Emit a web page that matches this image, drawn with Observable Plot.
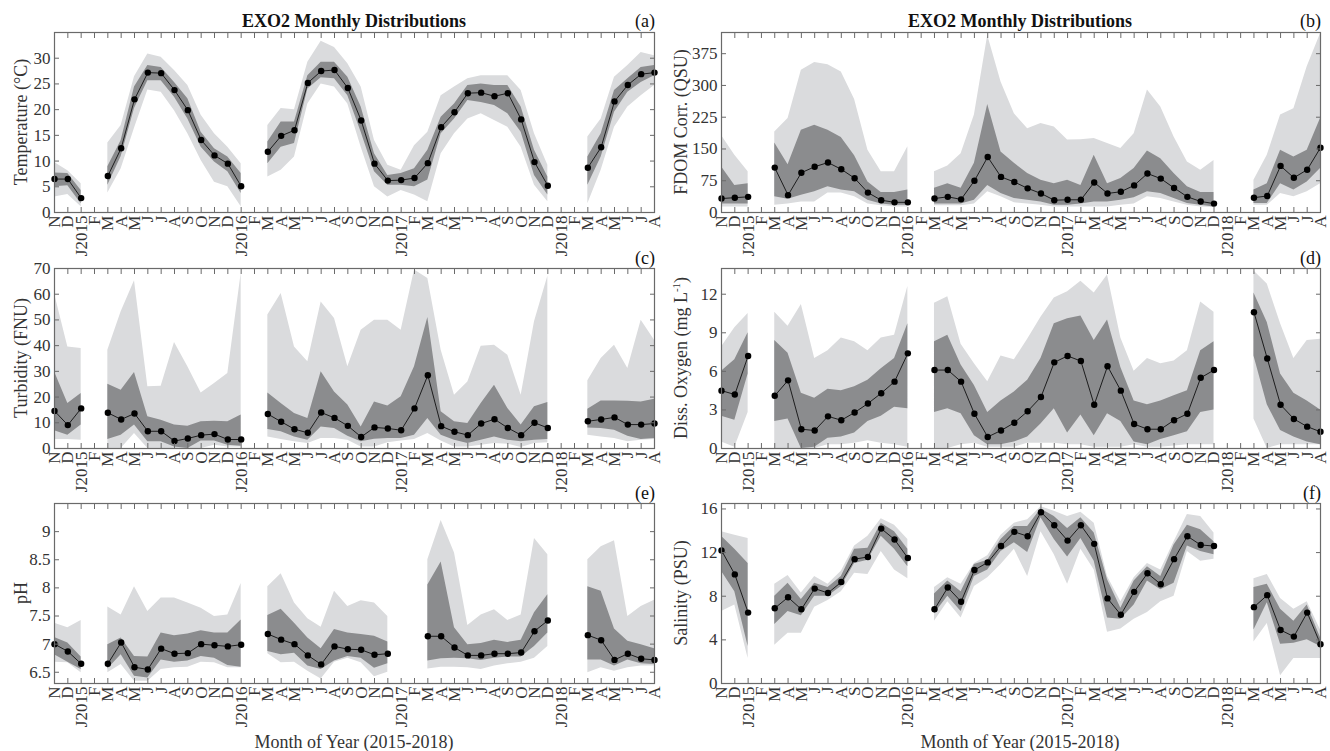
<!DOCTYPE html>
<html>
<head>
<meta charset="utf-8">
<script src="https://cdn.jsdelivr.net/npm/d3@7"></script>
<script src="https://cdn.jsdelivr.net/npm/@observablehq/plot@0.6"></script>
<style>
  body { margin: 0; background: #fff; }
  #root { position: relative; width: 1330px; height: 751px; font-family: "Liberation Serif", "Times New Roman", serif; color: #111; overflow: hidden; }
  #root svg { position: absolute; background: transparent; }
  .t { position: absolute; white-space: nowrap; font-size: 18px; line-height: 1; }
  .title { font-weight: bold; transform: translate(-50%, -100%); }
  .tag { transform: translate(-100%, -100%); }
  .ylab { transform: translate(-50%, -50%) rotate(-90deg); color: #333; }
  .xlab { transform: translate(-50%, -100%); color: #333; }
  sup { font-size: 11px; vertical-align: 7px; line-height: 0; }
</style>
</head>
<body>
<div id="root"></div>
<script>
// ---------- Month axis ----------
const months = ["N","D","J2015","F","M","A","M","J","J","A","S","O","N","D","J2016","F","M","A","M","J","J","A","S","O","N","D","J2017","F","M","A","M","J","J","A","S","O","N","D","J2018","F","M","A","M","J","J","A"];

// ---------- (a) Temperature ----------
const tempMed = [6.5,6.5,2.8,null,7.1,12.5,22.0,27.2,27.1,23.8,19.9,14.1,11.1,9.5,5.1,null,11.8,14.9,16.0,25.2,27.5,27.7,24.2,17.9,9.5,6.2,6.3,6.7,9.6,16.6,19.5,23.2,23.3,22.6,23.2,18.1,9.8,5.2,null,null,8.7,12.7,21.6,24.8,26.9,27.2];
const tempQ3  = [7.7,7.6,4.3,null,8.9,14.0,24.4,28.6,28.2,25.3,22.1,15.6,12.4,10.8,7.6,null,13.7,17.6,17.6,26.6,29.2,29.2,26.3,20.5,11.4,7.2,7.6,8.5,12.1,18.5,21.1,24.7,25.0,24.7,24.7,20.5,12.1,6.9,null,null,10.8,15.3,23.7,26.0,28.2,28.6];
const tempQ1  = [5.0,5.2,1.7,null,5.3,10.9,20.2,25.6,25.6,22.4,18.2,12.7,9.8,7.9,3.7,null,9.5,12.7,13.4,24.0,26.2,26.0,22.7,15.6,7.9,5.3,5.3,5.0,6.3,15.3,18.2,21.8,21.4,20.8,19.2,15.6,7.2,3.4,null,null,5.3,10.8,19.5,23.4,25.3,26.6];
const tempHi  = [9.7,8.1,5.6,null,13.5,16.9,26.4,30.8,30.2,27.6,24.7,18.9,15.3,12.7,9.5,null,16.9,20.2,20.0,29.2,33.3,32.1,28.9,24.4,14.0,9.2,8.2,13.0,15.6,22.7,24.4,26.0,26.6,26.6,26.6,23.7,15.3,9.2,null,null,14.7,18.2,26.3,28.6,31.1,30.5];
const tempLo  = [3.0,3.5,1.1,null,3.8,8.5,16.4,23.8,23.4,19.8,15.3,10.1,5.9,5.0,1.1,null,6.9,8.2,10.8,21.1,25.0,24.4,21.1,12.7,5.0,3.0,4.3,3.4,2.1,11.4,15.3,18.2,19.2,17.9,16.6,12.7,5.3,2.1,null,null,1.7,8.2,16.6,20.5,22.7,24.7];
const tempTicks = [0,5,10,15,20,25,30];

// ---------- (b) FDOM ----------
const fdomMed = [33,35,37,null,106,41,94,108,118,102,81,47,29,24,24,null,33,37,31,75,131,84,72,57,45,29,30,30,71,45,49,64,92,80,58,37,26,21,null,null,35,39,110,82,101,153];
const fdomQ3  = [108,64,68,null,164,113,194,206,194,177,134,72,47,47,53,null,57,68,57,116,255,143,116,92,76,68,76,64,135,68,80,104,145,127,92,61,47,47,null,null,53,68,147,131,147,222];
const fdomQ1  = [20,20,20,null,37,31,41,49,61,53,49,29,20,17,17,null,20,20,20,29,64,45,33,29,25,17,17,20,25,25,29,35,49,45,33,21,17,13,null,null,21,21,68,53,72,104];
const fdomHi  = [182,135,96,null,190,222,336,354,349,332,267,147,96,96,155,null,96,110,139,230,418,308,233,198,210,202,171,172,175,163,151,186,289,249,178,119,100,123,null,null,76,135,230,245,344,422];
const fdomLo  = [13,13,13,null,17,20,25,25,46,46,37,20,16,13,13,null,16,16,16,20,49,37,23,20,17,13,13,13,13,13,17,20,37,33,25,17,13,12,null,null,17,17,45,37,49,68];
const fdomTicks = [0,75,150,225,300,375];

// ---------- (c) Turbidity ----------
const turbMed = [14.6,9.1,15.6,null,13.9,11.3,13.6,6.7,6.7,2.9,3.9,5.2,5.6,3.5,3.5,null,13.4,10.4,7.5,6.1,14.0,11.9,8.8,4.5,8.2,7.8,7.1,15.6,28.5,8.7,6.5,5.2,9.7,11.4,8.0,5.2,10.0,8.0,null,null,10.6,11.3,12.1,9.3,9.3,9.7];
const turbQ3  = [29.8,17.5,21.4,null,25.0,22.7,29.6,12.3,11.0,9.1,8.7,10.4,10.6,10.4,13.0,null,21.6,17.5,13.6,11.7,29.8,22.0,16.9,8.4,18.1,16.5,20.1,31.8,50.9,14.3,10.4,9.7,17.5,24.6,15.6,9.1,16.2,17.9,null,null,15.3,18.5,18.5,18.4,18.1,19.2];
const turbQ1  = [6.9,5.2,9.1,null,3.5,5.2,9.1,2.6,2.6,0.6,0,2.9,2.9,1.3,0.9,null,7.4,6.5,4.5,3.2,8.4,7.8,4.8,2.6,3.6,3.9,3.9,5.2,11.7,5.2,3.2,1.9,3.2,4.5,3.2,2.6,3.2,3.5,null,null,8.0,7.8,7.1,4.8,3.5,3.9];
const turbHi  = [60.3,39.5,38.9,null,38.2,53.2,65.2,24.0,24.2,41.2,31.8,21.6,25.3,29.2,68.1,null,51.9,60.3,39.5,33.7,57.0,50.6,31.8,46.0,49.9,49.9,46.0,69.4,66.1,38.2,20.7,25.9,39.8,40.2,36.3,20.7,49.3,67.0,null,null,26.3,35.0,40.2,31.1,49.9,42.1];
const turbLo  = [3.5,3.5,3.2,null,0,0,5.8,0,0,0,0,0,1.3,0.6,0.6,null,4.5,3.5,2.6,1.9,3.9,3.9,3.2,0.6,0.6,2.2,2.9,3.5,5.8,2.9,0.6,0.6,1.3,1.9,1.7,0.4,1.9,2.2,null,null,5.2,4.5,3.9,2.6,3.2,3.5];
const turbTicks = [0,10,20,30,40,50,60,70];

// ---------- (d) Dissolved oxygen ----------
const doMed = [4.5,4.2,7.2,null,4.1,5.3,1.5,1.4,2.5,2.2,2.8,3.5,4.3,5.2,7.4,null,6.1,6.1,5.2,2.7,0.9,1.4,2.0,2.9,4.0,6.7,7.2,6.8,3.4,6.4,4.5,1.9,1.5,1.5,2.2,2.7,5.5,6.1,null,null,10.6,7.0,3.4,2.3,1.7,1.3];
const doQ3  = [6.0,6.9,9.0,null,8.4,7.4,4.3,3.9,4.6,4.5,4.8,5.3,6.2,7.0,9.7,null,8.3,8.8,6.5,4.9,2.8,3.7,4.4,5.3,7.0,9.7,10.1,10.3,8.4,10.0,6.3,3.7,3.4,3.7,4.1,4.5,7.6,8.3,null,null,12.1,9.8,5.8,4.3,3.7,3.0];
const doQ1  = [2.5,2.2,5.8,null,2.1,2.3,0,0.1,0.8,0.9,1.2,2.1,2.5,3.2,3.1,null,2.8,3.1,2.7,1.0,0.3,0.3,0.5,0.9,1.9,3.1,1.2,2.6,1.0,2.7,2.1,0.5,0.3,0.7,1.0,1.3,2.8,3.0,null,null,7.2,3.4,1.4,0.9,0.5,0.3];
const doHi  = [7.9,9.4,10.5,null,10.6,9.5,11.2,7.0,7.6,8.6,8.3,7.6,8.6,8.8,12.6,null,11.3,11.8,8.1,6.6,5.2,7.2,6.9,8.5,10.2,11.7,12.2,13.0,12.1,13.5,8.6,6.0,7.0,6.6,6.8,7.6,11.4,10.6,null,null,13.8,12.8,9.7,7.0,8.4,8.5];
const doLo  = [0.5,0.1,2.8,null,0,0,0,0,0.3,0.3,0.4,0.6,0.4,0.3,0.1,null,0,0,0.3,0.4,0.1,0.1,0.1,0.4,0.4,0.4,0.3,0.3,0.1,0.1,0.1,0.3,0.1,0.1,0.2,0.3,0.3,0.3,null,null,2.3,0,0.3,0.3,0.3,0.3];
const doTicks = [0,3,6,9,12];

// ---------- (e) pH ----------
const phMed = [7.00,6.87,6.65,null,6.65,7.03,6.59,6.55,6.92,6.83,6.84,7.00,6.98,6.96,6.99,null,7.18,7.08,7.00,6.80,6.64,6.96,6.91,6.90,6.81,6.83,null,null,7.14,7.14,6.94,6.80,6.80,6.83,6.83,6.85,7.23,7.42,null,null,7.16,7.07,6.72,6.83,6.74,6.72];
const phQ3  = [7.12,7.02,6.77,null,6.99,7.11,6.78,6.77,7.20,7.15,7.18,7.24,7.20,7.20,7.43,null,7.51,7.62,7.37,7.11,6.92,7.26,7.20,7.17,7.14,7.04,null,null,8.05,8.46,7.29,6.99,7.01,7.07,7.03,7.07,7.56,7.88,null,null,8.02,7.94,7.27,7.05,6.99,6.92];
const phQ1  = [6.81,6.68,6.55,null,6.56,6.81,6.43,6.40,6.72,6.68,6.70,6.78,6.75,6.62,6.59,null,6.87,6.81,6.84,6.61,6.55,6.70,6.78,6.75,6.57,6.65,null,null,6.70,6.74,6.75,6.74,6.71,6.75,6.77,6.77,6.96,7.20,null,null,6.72,6.72,6.61,6.72,6.65,6.64];
const phHi  = [7.37,7.29,7.42,null,7.66,7.52,8.02,7.58,7.82,7.82,7.73,7.64,7.49,7.52,8.08,null,8.02,8.25,7.73,7.45,7.30,7.94,7.67,7.77,7.73,7.49,null,null,8.50,9.20,8.62,7.33,7.52,7.61,7.42,7.52,8.88,8.59,null,null,8.50,8.73,8.84,7.49,7.67,7.78];
const phLo  = [6.68,6.67,6.49,null,6.49,6.64,6.34,6.34,6.55,6.58,6.59,6.68,6.67,6.58,6.58,null,6.83,6.67,6.68,6.52,6.38,6.68,6.75,6.67,6.42,6.50,null,null,6.56,6.59,6.59,6.58,6.55,6.61,6.65,6.68,6.75,6.96,null,null,6.49,6.58,6.52,6.58,6.61,6.61];
const phTicks = [6.5,7,7.5,8,8.5,9];

// ---------- (f) Salinity ----------
const salMed = [12.2,10.0,6.5,null,6.9,7.9,6.8,8.7,8.3,9.3,11.4,11.6,14.2,13.2,11.5,null,6.8,8.8,7.5,10.4,11.1,12.6,13.9,13.5,15.7,14.5,13.1,14.5,12.8,7.8,6.3,8.4,10.1,9.1,11.4,13.5,12.7,12.6,null,null,7.0,8.1,4.9,4.3,6.5,3.6];
const salQ3  = [13.5,12.3,11.0,null,8.0,9.2,7.7,9.2,8.8,9.8,12.3,12.4,14.7,13.9,12.3,null,8.2,9.4,8.4,10.9,11.3,13.2,14.4,14.4,16.0,15.3,14.2,15.2,13.8,9.5,6.9,9.4,10.7,9.8,12.7,14.5,14.1,13.0,null,null,8.8,9.1,6.8,5.7,7.2,4.2];
const salQ1  = [10.3,8.4,3.4,null,5.4,6.6,6.2,8.0,8.0,8.9,11.0,11.3,13.5,12.3,10.7,null,6.4,8.0,6.6,9.8,10.4,12.1,12.9,12.0,15.2,13.2,11.6,13.3,11.2,6.0,5.9,7.2,9.4,8.6,9.2,12.6,12.1,11.8,null,null,4.9,7.4,3.6,3.7,4.0,3.4];
const salHi  = [13.9,13.6,13.3,null,9.1,9.9,8.3,9.8,9.1,10.3,12.6,13.5,15.1,14.5,13.2,null,8.8,9.7,9.1,11.0,11.7,13.6,14.7,15.0,16.2,15.8,15.3,15.7,14.7,9.8,7.5,9.7,11.0,10.4,13.0,15.5,15.3,13.8,null,null,9.6,10.0,7.8,6.8,7.5,4.9];
const salLo  = [6.6,7.2,2.3,null,3.5,4.6,4.6,7.0,7.6,8.4,10.1,10.0,12.1,10.4,9.6,null,5.7,7.5,6.0,8.9,9.7,10.9,12.3,9.8,13.9,11.8,9.1,12.3,10.4,4.7,5.0,5.9,6.5,7.5,8.0,12.1,11.2,11.4,null,null,3.8,5.5,0.7,2.3,2.3,2.3];
const salTicks = [0,4,8,12,16];

// ---------- styling ----------
const LIGHT = "#dadbdd";
const DARK = "#8b8c8e";
const FRAME = "#6a6a6a";
const TEXT = "#333";

const root = document.getElementById("root");

function panel(cfg) {
  const idx = months.map((_, i) => i);
  const data = idx.map(i => ({
    i, med: cfg.med[i], q1: cfg.q1[i], q3: cfg.q3[i], lo: cfg.lo[i], hi: cfg.hi[i]
  }));
  const svg = Plot.plot({
    width: cfg.width, height: 280,
    marginLeft: cfg.ml, marginRight: cfg.mr, marginTop: 32, marginBottom: 68,
    style: { fontFamily: "'Liberation Serif', 'Times New Roman', serif", fontSize: "17px", background: "transparent", color: TEXT },
    x: { type: "linear", domain: [0, months.length - 1], axis: null },
    y: { type: "linear", domain: cfg.domain, axis: null },
    marks: [
      Plot.areaY(data, { x: "i", y1: "lo", y2: "hi", fill: LIGHT, curve: "linear" }),
      Plot.areaY(data, { x: "i", y1: "q1", y2: "q3", fill: DARK, curve: "linear" }),
      Plot.lineY(data, { x: "i", y: "med", stroke: "#000", strokeWidth: 0.8 }),
      Plot.dot(data, { x: "i", y: "med", fill: "#000", stroke: "none", r: 3.2 }),
      Plot.frame({ stroke: FRAME, strokeWidth: 1.2 }),
      Plot.axisX(idx, { anchor: "bottom", tickSize: -5, fill: "none", stroke: FRAME, label: null }),
      Plot.axisX(idx, { anchor: "top", tickSize: -5, fill: "none", stroke: FRAME, label: null }),
      Plot.axisX(idx, { anchor: "bottom", tickSize: 0, tickPadding: 3, tickRotate: -90, tickFormat: i => months[i], fill: TEXT, fontSize: 17, label: null }),
      Plot.axisY(cfg.ticks, { anchor: "left", tickSize: -5, fill: "none", stroke: FRAME, label: null }),
      Plot.axisY(cfg.ticks, { anchor: "right", tickSize: -5, fill: "none", stroke: FRAME, label: null }),
      Plot.axisY(cfg.ticks, { anchor: "left", tickSize: 0, tickPadding: 4, fill: TEXT, fontSize: 17, label: null, tickFormat: d => String(d) })
    ]
  });
  svg.style.left = cfg.left + "px";
  svg.style.top = cfg.top + "px";
  root.appendChild(svg);
}

const L = { left: 0, width: 665, ml: 54, mr: 11 };
const R = { left: 666, width: 664, ml: 55, mr: 10 };

panel({ ...L, top: 0,   domain: [0, 35],     ticks: tempTicks, med: tempMed, q1: tempQ1, q3: tempQ3, lo: tempLo, hi: tempHi });
panel({ ...R, top: 0,   domain: [0, 425],    ticks: fdomTicks, med: fdomMed, q1: fdomQ1, q3: fdomQ3, lo: fdomLo, hi: fdomHi });
panel({ ...L, top: 236, domain: [0, 70],     ticks: turbTicks, med: turbMed, q1: turbQ1, q3: turbQ3, lo: turbLo, hi: turbHi });
panel({ ...R, top: 236, domain: [0, 14],     ticks: doTicks,   med: doMed,   q1: doQ1,   q3: doQ3,   lo: doLo,   hi: doHi });
panel({ ...L, top: 471, domain: [6.3, 9.5],  ticks: phTicks,   med: phMed,   q1: phQ1,   q3: phQ3,   lo: phLo,   hi: phHi });
panel({ ...R, top: 471, domain: [0, 16.5],   ticks: salTicks,  med: salMed,  q1: salQ1,  q3: salQ3,  lo: salLo,  hi: salHi });

// ---------- text ----------
function addText(cls, x, y, html) {
  const d = document.createElement("div");
  d.className = "t " + cls;
  d.style.left = x + "px";
  d.style.top = y + "px";
  d.innerHTML = html;
  root.appendChild(d);
}
addText("title", 354, 30, "EXO2 Monthly Distributions");
addText("title", 1020, 30, "EXO2 Monthly Distributions");
addText("tag", 655, 30, "(a)");
addText("tag", 1321, 30, "(b)");
addText("tag", 655, 267, "(c)");
addText("tag", 1321, 267, "(d)");
addText("tag", 655, 502, "(e)");
addText("tag", 1321, 502, "(f)");
addText("ylab", 21, 122, "Temperature (°C)");
addText("ylab", 681, 122, "FDOM Corr. (QSU)");
addText("ylab", 21, 358, "Turbidity (FNU)");
addText("ylab", 681, 358, "Diss. Oxygen (mg L<sup>-1</sup>)");
addText("ylab", 21, 593, "pH");
addText("ylab", 681, 593, "Salinity (PSU)");
addText("xlab", 354, 751, "Month of Year (2015-2018)");
addText("xlab", 1020, 751, "Month of Year (2015-2018)");
</script>
</body>
</html>
